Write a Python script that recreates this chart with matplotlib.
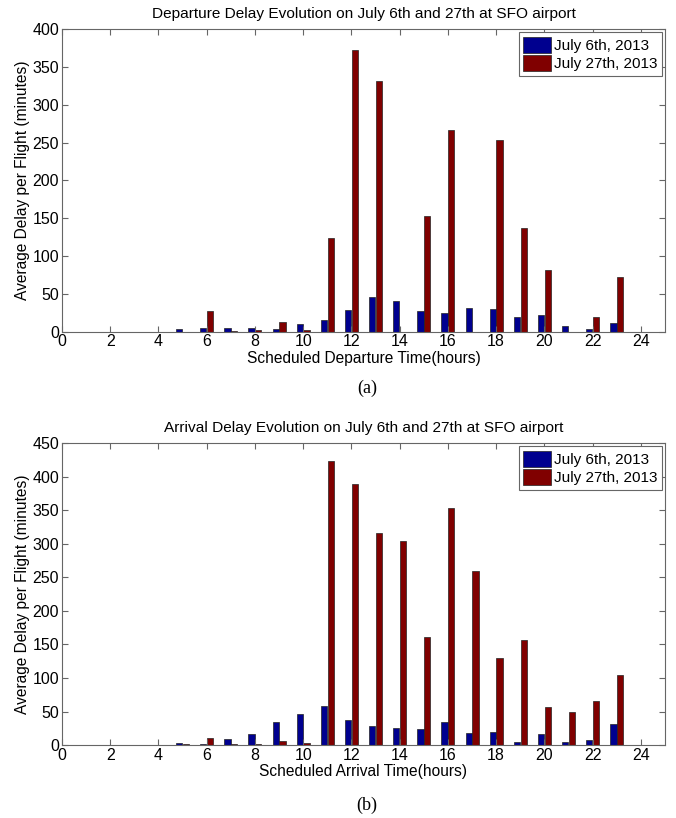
import matplotlib.pyplot as plt
import numpy as np

plt.rcParams["font.family"] = ["Liberation Sans", "DejaVu Sans"]

# Hours of the day with recorded flights
hours = np.arange(5, 24)

# Departure delays (minutes)
dep_jul6 = [3, 4.4, 5.3, 4.4, 3.5, 10, 16, 29, 46.5, 40, 28, 25, 31, 29.5, 20, 22, 7.5, 3, 12]
dep_jul27 = [0, 28, 1, 2.7, 12.8, 2, 124, 372, 331, 0, 153, 267, 0, 254, 137, 82, 0, 19, 72]

# Arrival delays (minutes)
arr_jul6 = [2.5, 1, 8.5, 16, 34, 46, 58, 38, 28, 25, 24, 34, 18, 19.5, 5, 16, 5, 7, 31]
arr_jul27 = [1.5, 10.4, 1, 2, 5.5, 3, 424, 390, 317, 305, 161, 354, 259, 130, 156, 56, 50, 65, 105]

labels = ["July 6th, 2013", "July 27th, 2013"]
blue = "#00008f"
red = "#800000"
frame = "#666666"


def delay_panel(ax, s1, s2, ymax, title, xlabel):
    w = 0.26
    ax.bar(hours - 0.14, s1, width=w, color=blue, edgecolor="#222222", linewidth=0.5, label=labels[0])
    ax.bar(hours + 0.14, s2, width=w, color=red, edgecolor="#222222", linewidth=0.5, label=labels[1])
    ax.set_xlim(0, 25)
    ax.set_ylim(0, ymax)
    ax.set_xticks(range(0, 25, 2))
    ax.set_yticks(range(0, ymax + 1, 50))
    ax.tick_params(direction="in", top=True, right=True, length=4, width=0.8,
                   color=frame, labelsize=11.5, pad=2)
    for s in ax.spines.values():
        s.set_color(frame)
        s.set_linewidth(0.8)
    ax.set_title(title, fontsize=11.1, pad=8)
    ax.set_xlabel(xlabel, fontsize=11.2, labelpad=1)
    ax.set_ylabel("Average Delay per Flight (minutes)", fontsize=11.2, labelpad=2)
    leg = ax.legend(loc="upper right", fontsize=11, fancybox=False, framealpha=1,
                    handlelength=1.8, handleheight=1.2, handletextpad=0.2,
                    borderpad=0.3, labelspacing=0.15, borderaxespad=0.2)
    leg.get_frame().set_edgecolor(frame)
    leg.get_frame().set_linewidth(0.8)


fig = plt.figure(figsize=(6.76, 8.18), dpi=100)
ax1 = fig.add_axes([0.0917, 0.5945, 0.892, 0.3697])
ax2 = fig.add_axes([0.0917, 0.0892, 0.892, 0.3688])

delay_panel(ax1, dep_jul6, dep_jul27, 400,
            "Departure Delay Evolution on July 6th and 27th at SFO airport",
            "Scheduled Departure Time(hours)")
delay_panel(ax2, arr_jul6, arr_jul27, 450,
            "Arrival Delay Evolution on July 6th and 27th at SFO airport",
            "Scheduled Arrival Time(hours)")

fig.text(0.543, 0.525, "(a)", family="Liberation Serif", fontsize=13, ha="center", va="center")
fig.text(0.543, 0.016, "(b)", family="Liberation Serif", fontsize=13, ha="center", va="center")

fig.savefig("out.png", dpi=100)
